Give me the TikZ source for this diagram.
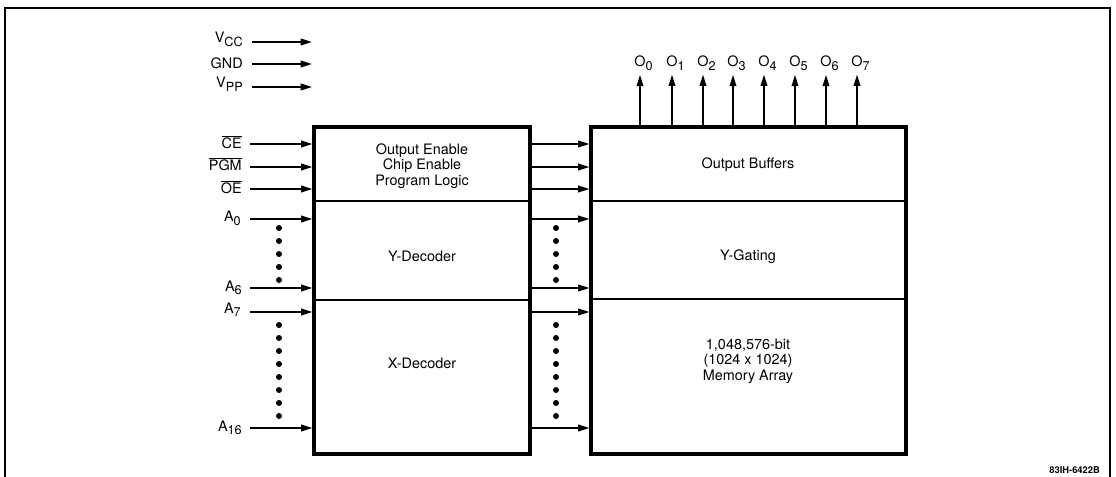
\documentclass[tikz,border=0pt]{standalone}
\usepackage{fontspec}
\setmainfont{TeX Gyre Heros}
\usetikzlibrary{arrows.meta}
\newcommand\sbs[1]{\raisebox{-0.45ex}{\fontsize{9.5}{9.5}\selectfont #1}}
\begin{document}
\begin{tikzpicture}[x=0.75pt,y=-0.75pt,
  sig/.style={line width=1.25pt,-{Triangle[length=8.5pt,width=5pt]}},
  blk/.style={draw,line width=2.4pt,inner sep=0pt,rectangle},
  divider/.style={line width=1.5pt},
  frameline/.style={line width=1.6pt},
  lbl/.style={anchor=base east,inner sep=0pt,font=\fontsize{10.8}{12}\selectfont},
  olbl/.style={anchor=base,inner sep=0pt,font=\fontsize{10.8}{12}\selectfont},
  txt/.style={align=center,inner sep=0pt,font=\fontsize{10.8}{11.6}\selectfont},
  tag/.style={anchor=base east,inner sep=0pt,font=\fontsize{7}{8}\selectfont\bfseries},
  dotmark/.style={circle,fill,inner sep=0pt,minimum size=4.5pt}]
\useasboundingbox (0,0) rectangle (1116,477);

% frame
\draw[frameline] (5,477) -- (5,8) -- (1110,8) -- (1110,477);

% blocks
\node[blk,minimum width=216*0.75pt,minimum height=327*0.75pt] (lbox) at (422,290.5) {};
\node[blk,minimum width=315*0.75pt,minimum height=327*0.75pt] (rbox) at (748.5,290.5) {};
\coordinate (ld1) at (422,201);
\coordinate (ld2) at (422,300);
\coordinate (rd1) at (748,201);
\coordinate (rd2) at (748,299);
\draw[divider] (ld1 -| lbox.west) -- (ld1 -| lbox.east);
\draw[divider] (ld2 -| lbox.west) -- (ld2 -| lbox.east);
\draw[divider] (rd1 -| rbox.west) -- (rd1 -| rbox.east);
\draw[divider] (rd2 -| rbox.west) -- (rd2 -| rbox.east);

% block texts
\node[txt] (tctl) at (422,166) {Output Enable\\Chip Enable\\Program Logic};
\node[txt] (tyd) at (422,256) {Y-Decoder};
\node[txt] (txd) at (422,363) {X-Decoder};
\node[txt] (tob) at (748,165) {Output Buffers};
\node[txt] (tyg) at (748,257) {Y-Gating};
\node[txt] (tma) at (748,361) {1,048,576-bit\\(1024 x 1024)\\Memory Array};

% power labels and arrows
\node[lbl] (vcc) at (243,43) {V\sbs{CC}};
\node[lbl] (gnd) at (243,69) {GND};
\node[lbl] (vpp) at (243,88) {V\sbs{PP}};
\coordinate (pv1) at (252,42);
\coordinate (pv2) at (252,64);
\coordinate (pv3) at (252,87);
\coordinate (pe1) at (312,42);
\coordinate (pe2) at (312,64);
\coordinate (pe3) at (312,87);
\draw[sig] (pv1) -- (pe1);
\draw[sig] (pv2) -- (pe2);
\draw[sig] (pv3) -- (pe3);

% control / address labels
\node[lbl] (ce) at (242,149) {$\overline{\mbox{CE}}$};
\node[lbl] (pgm) at (242,171) {$\overline{\mbox{PGM}}$};
\node[lbl] (oe) at (242,194) {$\overline{\mbox{OE}}$};
\node[lbl] (a0) at (241,222) {A\sbs{0}};
\node[lbl] (a6) at (242,291) {A\sbs{6}};
\node[lbl] (a7) at (241,313) {A\sbs{7}};
\node[lbl] (a16) at (242,431) {A\sbs{16}};

\foreach \n/\y in {s1/144,s2/167,s3/189,s4/219,s5/288,s6/312,s7/428}{
  \coordinate (\n) at (250,\y);
  \draw[sig] (\n) -- (\n -| lbox.west);
  \draw[sig] (\n -| lbox.east) -- (\n -| rbox.west);
}

% dots
\foreach \y in {228,241,254,267,280}{
  \node[dotmark] at (279,\y) {};
  \node[dotmark] at (556,\y) {};
}
\foreach \y in {325,338,351,364,377,390,403,416}{
  \node[dotmark] at (279,\y) {};
  \node[dotmark] at (556,\y) {};
}

% outputs
\foreach \i/\x in {0/640,1/672,2/703,3/733,4/764,5/795,6/826,7/857}{
  \node[olbl] (o\i) at (\x,67) {O\rlap{\sbs{\i}}};
  \draw[sig,shorten >=3pt] (o\i |- rbox.north) -- (o\i);
}

% figure tag
\node[tag] (fig) at (1100,473) {83IH-6422B};
\end{tikzpicture}
\end{document}
